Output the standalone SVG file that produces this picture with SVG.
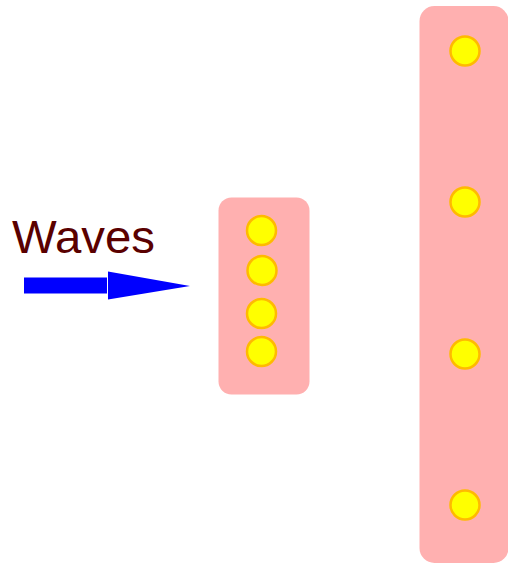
<svg xmlns="http://www.w3.org/2000/svg" width="508" height="563" viewBox="0 0 508 563">
<style>
.box{fill:#FFB0B0}
.dot{fill:#FFFF00;stroke:#FFBA00;stroke-width:2.5}
.lbl{font-family:"Liberation Sans",Arial,sans-serif;font-size:46px;fill:#5A0000}
.arr{fill:#0000FF}
</style>
<rect width="508" height="563" fill="#FFFFFF"/>
<g id="label"><text class="lbl" x="12" y="253" textLength="143" lengthAdjust="spacingAndGlyphs">Waves</text></g>
<g id="connectors">
<rect class="arr" x="24" y="277.5" width="83" height="16"/>
<polygon class="arr" points="108,271.5 190,286 108,299.5"/>
</g>
<g id="small-box">
<rect class="box" x="218.5" y="197.5" width="91" height="197" rx="13"/>
<circle class="dot" cx="261.5" cy="230.5" r="14.5"/>
<circle class="dot" cx="262" cy="270.5" r="14.5"/>
<circle class="dot" cx="261.5" cy="313.5" r="14.5"/>
<circle class="dot" cx="261.5" cy="351.5" r="14.5"/>
</g>
<g id="large-box">
<rect class="box" x="419.5" y="6" width="89" height="557" rx="15"/>
<circle class="dot" cx="465" cy="51" r="14.5"/>
<circle class="dot" cx="465" cy="202" r="14.5"/>
<circle class="dot" cx="465" cy="354" r="14.5"/>
<circle class="dot" cx="465" cy="505" r="14.5"/>
</g>
</svg>
